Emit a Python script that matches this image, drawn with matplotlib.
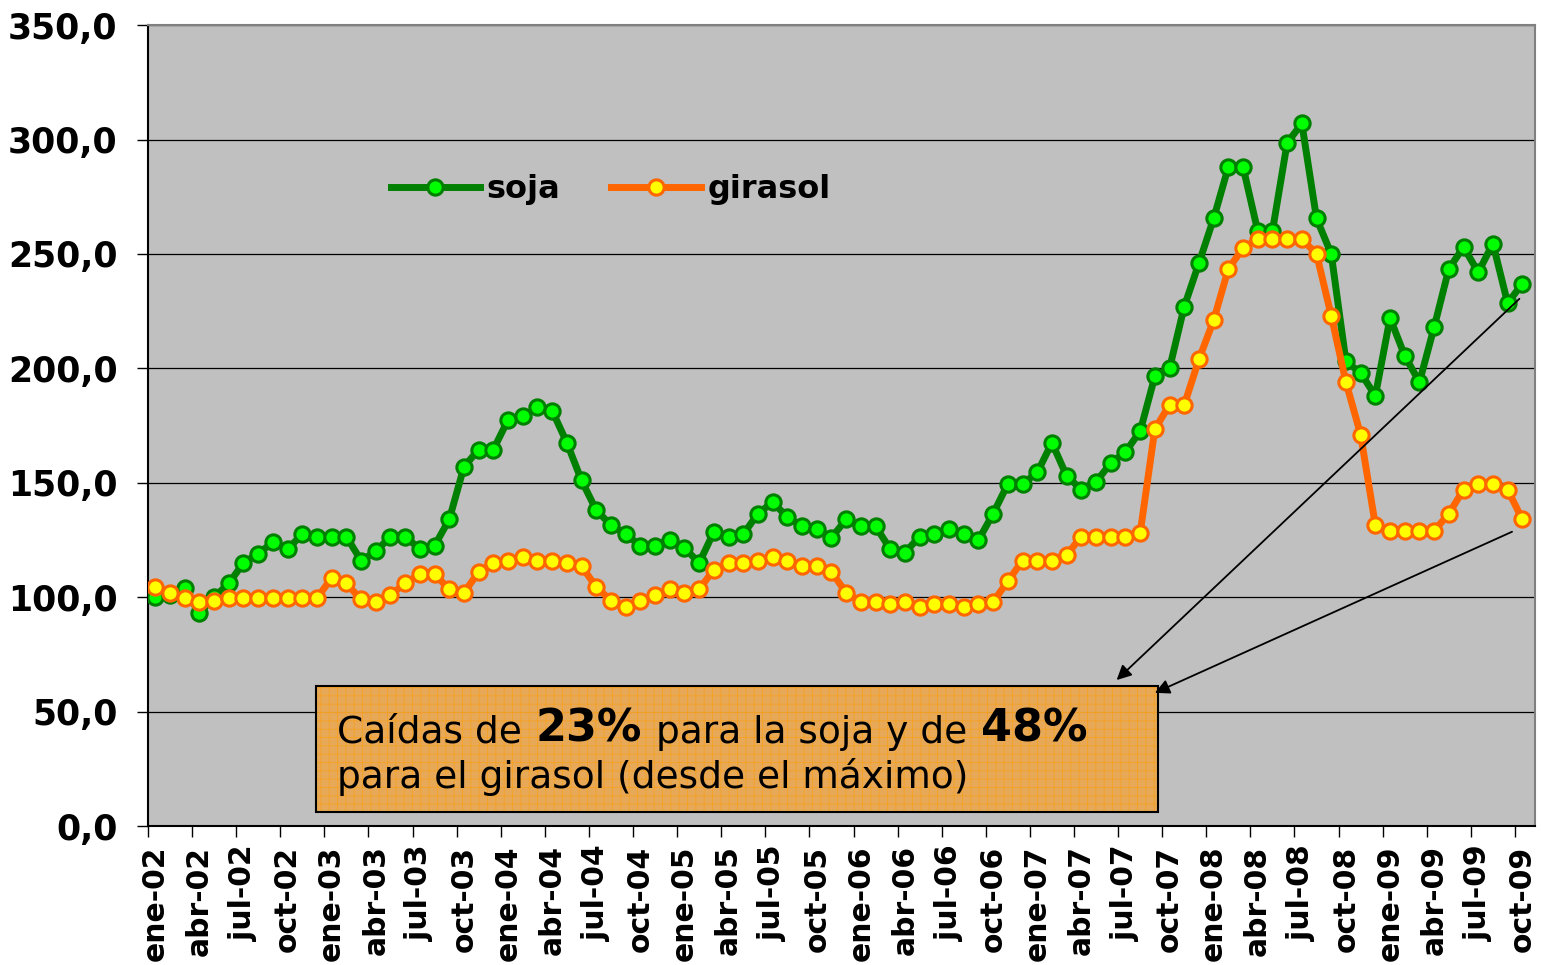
import matplotlib
matplotlib.use("Agg")
import matplotlib.pyplot as plt
from matplotlib.patches import Rectangle
from matplotlib.ticker import FuncFormatter, FixedLocator

plt.rcParams['font.family'] = ['DejaVu Sans']
plt.rcParams['hatch.linewidth'] = 0.6

# índices mensuales ene-02 .. oct-09
soja = [100, 101, 104, 93, 100, 106, 115, 119, 124, 121,
        127.5, 126.5, 126.5, 126.5, 116, 120, 126.5, 126.5, 121, 122.5,
        134, 157, 164.5, 164.5, 177.5, 179, 183, 181.5, 167.5, 151,
        138, 131.5, 127.5, 122.5, 122.5, 125, 121.5, 115, 128.5, 126.5,
        127.5, 136.5, 141.5, 135, 131, 130, 126, 134, 131, 131,
        121, 119.5, 126.5, 127.5, 130, 127.5, 125, 136.5, 149.5, 149.5,
        154.5, 167.5, 153, 147, 150.5, 158.5, 163.5, 172.5, 196.5, 200,
        227, 246, 265.5, 288, 288, 260, 260, 298.5, 307, 265.5,
        250, 203, 198, 188, 222, 205.5, 194, 218, 243.5, 253,
        242, 254.5, 228.5, 237]

girasol = [104.5, 102, 99.6, 98, 98.5, 99.5, 99.5, 99.5, 99.5, 99.5,
           99.5, 99.5, 108.5, 106, 99, 98, 101, 106, 110, 110,
           103.5, 102, 111, 115, 116, 117.5, 116, 116, 115, 113.5,
           104.5, 98.5, 95.7, 98.5, 101, 103.5, 102, 103.5, 112, 115,
           115, 116, 117.5, 116, 113.5, 113.5, 111, 102, 98, 98,
           97, 98, 95.5, 97, 97, 95.5, 97, 98, 107, 116,
           116, 116, 118.5, 126.5, 126.5, 126.5, 126.5, 128, 173.5, 184,
           184, 204, 221, 243.5, 252.5, 256.5, 256.5, 256.5, 256.5, 250,
           223, 194, 171, 131.5, 129, 129, 129, 129, 136.5, 147,
           149.5, 149.5, 147, 134]

etiquetas = ['ene-02', 'abr-02', 'jul-02', 'oct-02',
             'ene-03', 'abr-03', 'jul-03', 'oct-03',
             'ene-04', 'abr-04', 'jul-04', 'oct-04',
             'ene-05', 'abr-05', 'jul-05', 'oct-05',
             'ene-06', 'abr-06', 'jul-06', 'oct-06',
             'ene-07', 'abr-07', 'jul-07', 'oct-07',
             'ene-08', 'abr-08', 'jul-08', 'oct-08',
             'ene-09', 'abr-09', 'jul-09', 'oct-09']

n = len(soja)
x = [i + 0.5 for i in range(n)]

fig = plt.figure(figsize=(15.41, 9.65), dpi=100)
ax = fig.add_axes([0.096, 0.144, 0.9, 0.830])
ax.set_facecolor('#C0C0C0')

ax.plot(x, soja, color='#008000', lw=5, marker='o', ms=11,
        mfc='#00FF00', mec='#008000', mew=2.2, label='soja', zorder=3)
ax.plot(x, girasol, color='#FF6600', lw=5, marker='o', ms=11,
        mfc='#FFFF00', mec='#FF6600', mew=2.2, label='girasol', zorder=3)

ax.set_xlim(0, n + 0.35)
ax.set_ylim(0, 350)

# eje y
ax.set_yticks(range(0, 351, 50))
ax.yaxis.set_major_formatter(FuncFormatter(lambda v, p: f"{v:.1f}".replace('.', ',')))
ax.tick_params(axis='y', length=8, width=1, pad=14, labelsize=25)
for t in ax.get_yticklabels():
    t.set_fontweight('bold')
ax.grid(axis='y', color='black', lw=0.9)
ax.set_axisbelow(True)

# eje x: marcas cada 3 meses, etiquetas centradas en la categoría
ax.xaxis.set_major_locator(FixedLocator(list(range(0, n, 3))))
ax.xaxis.set_minor_locator(FixedLocator([i + 0.5 for i in range(0, n, 3)]))
ax.set_xticklabels([], minor=False)
ax.set_xticklabels(etiquetas, minor=True, rotation=90, fontsize=21.5,
                   fontweight='bold', va='top', ha='center')
ax.tick_params(axis='x', which='major', length=8, width=1)
ax.tick_params(axis='x', which='minor', length=0, pad=14)

ax.spines['left'].set_color('black')
ax.spines['bottom'].set_color('black')
ax.spines['top'].set_color('#808080')
ax.spines['right'].set_color('#808080')
for s in ax.spines.values():
    s.set_linewidth(1.5)

leg = ax.legend(loc='center left', bbox_to_anchor=(0.175, 0.795), ncol=2,
                frameon=False, handlelength=2.8,
                handletextpad=0.2, columnspacing=1.6,
                borderpad=0, borderaxespad=0,
                prop={'weight': 'bold', 'size': 23})

# recuadro con el comentario
caja = Rectangle((11.41, 6.2), 57.28, 55.1, facecolor='#EBA84E',
                 edgecolor='#F7A020', hatch='++', lw=0, alpha=0.92, zorder=2)
ax.add_patch(caja)
ax.add_patch(Rectangle((11.41, 6.2), 57.28, 55.1, fill=False,
                       edgecolor='black', lw=1.5, zorder=2.1))

t1 = ax.text(12.86, 36.3, "Caídas de", fontsize=27, va='baseline', zorder=5)
t2 = ax.annotate("23%", xy=(1, 0), xycoords=t1, xytext=(10, 0),
                 textcoords='offset points', fontsize=32, fontweight='bold',
                 va='bottom', zorder=5)
t3 = ax.annotate("para la soja y de", xy=(1, 0), xycoords=t2, xytext=(10, 0),
                 textcoords='offset points', fontsize=27, va='bottom', zorder=5)
ax.annotate("48%", xy=(1, 0), xycoords=t3, xytext=(10, 0),
            textcoords='offset points', fontsize=32, fontweight='bold',
            va='bottom', zorder=5)
ax.text(12.86, 16.6, "para el girasol (desde el máximo)", fontsize=27,
        va='baseline', zorder=5)

# flechas
flecha = dict(arrowstyle='-|>', color='black', lw=1.3, mutation_scale=22,
              shrinkA=0, shrinkB=0)
ax.annotate("", xy=(65.9, 63.8), xytext=(93.3, 230.4),
            arrowprops=flecha, zorder=6)
ax.annotate("", xy=(68.5, 58.2), xytext=(92.8, 128.6),
            arrowprops=flecha, zorder=6)

fig.savefig('out.png', dpi=100, facecolor='white')
